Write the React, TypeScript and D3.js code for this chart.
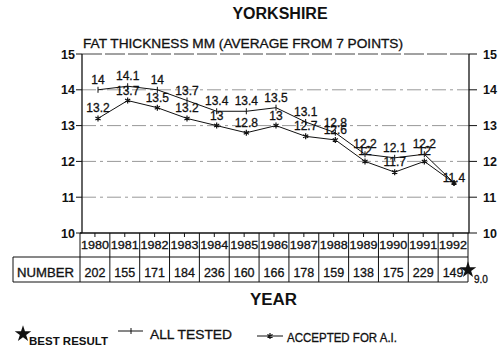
import React from "react";
import * as d3 from "d3";

const years = [1980, 1981, 1982, 1983, 1984, 1985, 1986, 1987, 1988, 1989, 1990, 1991, 1992];
const allTested = [14, 14.1, 14, 13.7, 13.4, 13.4, 13.5, 13.1, 12.8, 12.2, 12.1, 12.2, 11.4];
const acceptedAI = [13.2, 13.7, 13.5, 13.2, 13, 12.8, 13, 12.7, 12.6, 12, 11.7, 12, 11.4];
const numbers = [202, 155, 171, 184, 236, 160, 166, 178, 159, 138, 175, 229, 149];
const yTicks = [10, 11, 12, 13, 14, 15];
const bestResult = 9.0;

const FONT = "'Liberation Sans', Arial, sans-serif";
const INK = "#111";

export default function App() {
  const W = 500, H = 351;
  const left = 82, right = 469, top = 54, bottom = 233;
  const y = d3.scaleLinear().domain([10, 15]).range([bottom, top]);
  const x = d3.scalePoint<number>().domain(years).range([98, 454]);
  const col = d3.scaleBand<number>().domain(years).range([80, 468]).padding(0);
  const tableLeft = 13, row1 = 233, row2 = 257, row3 = 282;

  const line = d3.line<number>().x((_, i) => x(years[i])!).y((v) => y(v));
  const star = d3.symbol().type(d3.symbolStar).size(85)();

  const asterisk = (cx: number, cy: number, r = 3) => {
    const parts: string[] = [];
    for (let k = 0; k < 3; k++) {
      const a = (Math.PI / 3) * k + Math.PI / 2;
      parts.push(`M${cx + r * Math.cos(a)},${cy + r * Math.sin(a)}L${cx - r * Math.cos(a)},${cy - r * Math.sin(a)}`);
    }
    return parts.join("");
  };

  const ts = { fill: INK, stroke: INK, strokeWidth: 0.3 } as const;

  return (
    <svg width={W} height={H} style={{ position: "absolute", left: 0, top: 0, background: "#fff" }} fontFamily={FONT}>
      {/* titles */}
      <text x={280} y={19} textAnchor="middle" fontSize={16} fontWeight="bold" fill={INK}>YORKSHIRE</text>
      <text x={83} y={48} fontSize={12.5} {...ts} textLength={320} lengthAdjust="spacingAndGlyphs">FAT THICKNESS MM (AVERAGE FROM 7 POINTS)</text>

      {/* grid */}
      {[11, 12, 13, 14].map((t) => (
        <line key={t} x1={left} x2={right} y1={y(t)} y2={y(t)} stroke="#999" strokeWidth={1} strokeDasharray="14 4 3 4" />
      ))}
      <line x1={left} x2={right} y1={y(15)} y2={y(15)} stroke="#444" strokeWidth={1} strokeDasharray="20 3" />
      <line x1={left} x2={left} y1={top} y2={bottom} stroke={INK} strokeWidth={1.3} />
      <line x1={right} x2={right} y1={top} y2={bottom} stroke={INK} strokeWidth={1.3} />
      <line x1={left - 2} x2={right} y1={bottom} y2={bottom} stroke={INK} strokeWidth={1.3} />

      {/* y ticks */}
      {yTicks.map((t) => (
        <g key={t}>
          <line x1={left - 6} x2={left} y1={y(t)} y2={y(t)} stroke={INK} />
          <line x1={right} x2={right + 8} y1={y(t)} y2={y(t)} stroke={INK} />
          <text x={75} y={y(t) + 4.5} textAnchor="end" fontSize={12.5} fontWeight="bold" fill={INK}>{t}</text>
          <text x={483} y={y(t) + 4.5} fontSize={12.5} fontWeight="bold" fill={INK}>{t}</text>
        </g>
      ))}

      {/* series lines */}
      <path d={line(allTested)!} fill="none" stroke={INK} strokeWidth={1} />
      <path d={line(acceptedAI)!} fill="none" stroke={INK} strokeWidth={1} />
      {allTested.map((v, i) => (
        <line key={"m" + i} x1={x(years[i])} x2={x(years[i])} y1={y(v) - 3} y2={y(v) + 3} stroke={INK} strokeWidth={1} />
      ))}
      {acceptedAI.map((v, i) => (
        <path key={"a" + i} d={asterisk(x(years[i])!, y(v))} stroke={INK} strokeWidth={1.2} />
      ))}

      {/* value labels */}
      {allTested.map((v, i) => {
        const same = v === acceptedAI[i];
        return (
          <text key={"l" + i} x={x(years[i])} y={y(v) - (same ? 1 : 6)} textAnchor="middle" fontSize={12} {...ts}>{v}</text>
        );
      })}
      {acceptedAI.map((v, i) =>
        v === allTested[i] ? null : (
          <text key={"k" + i} x={x(years[i])} y={y(v) - 6} textAnchor="middle" fontSize={12} {...ts}>{v}</text>
        )
      )}

      {/* table */}
      {years.map((yr, i) => (
        <g key={yr}>
          <line x1={col(yr)} x2={col(yr)} y1={row1} y2={row3} stroke={INK} />
          <line x1={col(yr)! + col.bandwidth() / 2} x2={col(yr)! + col.bandwidth() / 2} y1={row1} y2={row1 + 4} stroke={INK} />
          <text x={col(yr)! + col.bandwidth() / 2} y={249} textAnchor="middle" fontSize={11} {...ts} textLength={28} lengthAdjust="spacingAndGlyphs">{yr}</text>
          <text x={col(yr)! + col.bandwidth() / 2} y={277} textAnchor="middle" fontSize={12.5} {...ts}>{numbers[i]}</text>
        </g>
      ))}
      <line x1={468} x2={468} y1={row1} y2={row3} stroke={INK} />
      <line x1={tableLeft} x2={468} y1={row2} y2={row2} stroke={INK} />
      <line x1={tableLeft} x2={468} y1={row3} y2={row3} stroke={INK} />
      <line x1={tableLeft} x2={tableLeft} y1={row2} y2={row3} stroke={INK} />
      <text x={17} y={277} fontSize={12.5} {...ts} textLength={57} lengthAdjust="spacingAndGlyphs">NUMBER</text>

      {/* best result star */}
      <path d={star} transform={`translate(468,270)`} fill={INK} />
      <text x={474} y={283} fontSize={10} {...ts}>{bestResult.toFixed(1)}</text>

      <text x={250} y={305} fontSize={16} fontWeight="bold" fill={INK} textLength={47} lengthAdjust="spacingAndGlyphs">YEAR</text>

      {/* legend */}
      <path d={star} transform={`translate(23,334)`} fill={INK} />
      <text x={29} y={345} fontSize={10} fontWeight="bold" fill={INK} textLength={79} lengthAdjust="spacingAndGlyphs">BEST RESULT</text>
      <line x1={118} x2={143} y1={331} y2={331} stroke={INK} />
      <line x1={131} x2={131} y1={328} y2={334} stroke={INK} />
      <text x={150} y={339} fontSize={13} {...ts} textLength={82} lengthAdjust="spacingAndGlyphs">ALL TESTED</text>
      <line x1={257} x2={283} y1={336} y2={336} stroke={INK} />
      <path d={asterisk(270, 336)} stroke={INK} strokeWidth={1.2} />
      <text x={287} y={342} fontSize={12} {...ts} textLength={110} lengthAdjust="spacingAndGlyphs">ACCEPTED FOR A.I.</text>
    </svg>
  );
}
